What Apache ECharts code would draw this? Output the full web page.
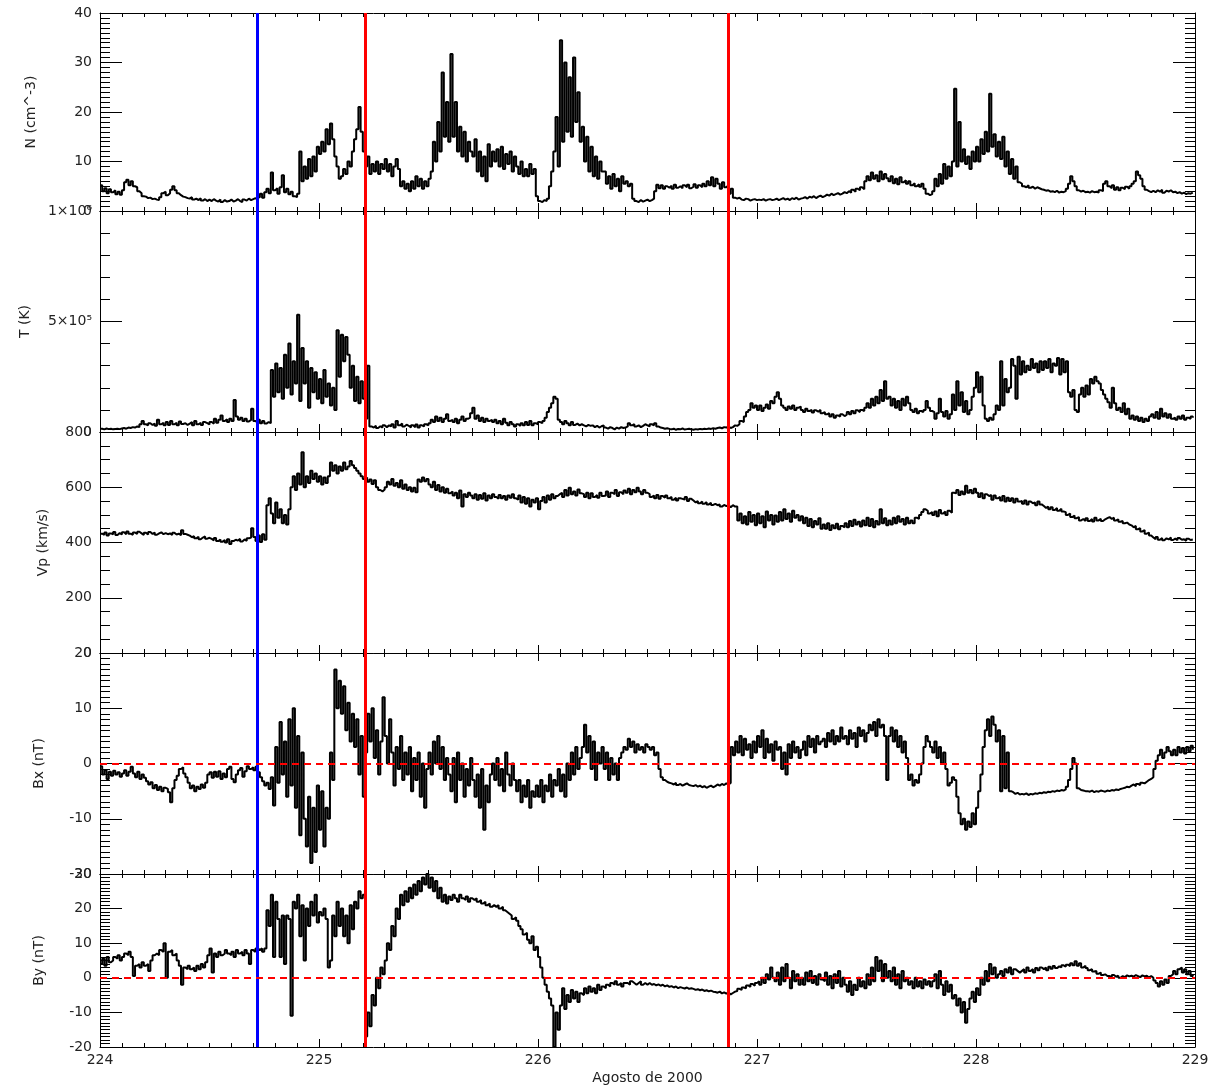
<!DOCTYPE html>
<html><head><meta charset="utf-8">
<script src="https://cdn.jsdelivr.net/npm/echarts@6/dist/echarts.min.js"></script>
<style>html,body{margin:0;padding:0;background:#fff}#c{width:1218px;height:1086px}</style>
</head><body><div id="c"></div>
<script>
// ---- data (day of year 2000, sampled every 0.01 day from 224.00) ----
const START_DAY = 224, STEP_DAY = 0.01;
const X_TICKS = [224, 225, 226, 227, 228, 229];

const N_CM3 = [
5.2,4.0,4.6,3.6,4.4,3.8,4.2,3.4,3.9,3.3,
4.2,5.8,6.3,5.2,6.0,5.0,4.8,4.0,3.6,3.0,
2.9,2.6,2.7,2.4,2.5,2.3,2.2,2.8,3.6,3.9,
3.2,3.6,4.3,5.0,4.2,3.6,3.2,2.9,2.8,2.6,
2.5,2.8,2.3,2.5,2.2,2.6,2.1,2.4,2.0,2.3,
2.0,2.4,2.1,1.9,2.3,1.8,2.2,1.9,2.0,2.3,
1.9,2.1,2.4,2.0,1.8,2.3,2.1,2.5,2.2,2.4,
2.6,2.2,2.8,3.5,2.7,3.8,4.5,3.6,7.8,4.2,
4.6,3.5,4.8,7.2,3.8,4.5,3.4,3.9,3.0,2.8,
3.5,12.0,6.0,9.0,6.5,10.5,7.0,11.0,8.0,13.0,
11.5,14.0,12.0,16.5,13.5,17.7,14.5,11.0,9.0,6.5,
7.0,8.5,7.5,10.0,9.0,12.0,14.5,16.5,21.0,16.0,
12.0,9.0,11.0,7.5,9.5,8.0,10.0,7.5,9.5,8.5,
10.5,8.0,9.5,7.0,9.0,10.5,8.5,5.0,6.0,4.5,
5.5,4.0,6.0,4.5,7.0,5.0,6.5,4.5,6.0,5.0,
6.5,8.0,14.0,10.0,18.0,12.0,28.0,15.0,22.0,14.0,
31.7,15.0,22.0,12.0,17.0,11.0,16.0,10.0,14.0,12.0,
11.0,14.5,8.0,12.0,7.0,11.0,6.0,13.5,9.0,12.0,
10.0,12.5,9.0,13.0,8.5,11.5,9.5,12.0,8.0,11.0,
9.0,7.5,10.0,7.0,8.5,7.0,9.5,7.5,8.5,3.0,
2.0,1.8,2.2,2.0,2.5,5.0,8.0,12.0,19.0,9.0,
34.5,14.0,30.0,16.0,27.0,15.0,31.0,18.0,24.0,14.0,
17.0,10.0,15.0,8.0,13.0,7.0,11.0,6.5,10.0,8.0,
8.0,5.5,7.0,4.5,7.5,5.0,6.5,4.0,7.0,5.5,
6.0,5.0,5.5,2.5,2.0,1.8,2.2,1.9,2.1,2.3,
2.0,2.2,2.5,4.0,5.3,4.6,5.2,4.5,5.0,4.7,
5.1,4.5,5.3,4.7,5.0,4.6,5.2,4.8,5.3,4.6,
4.9,5.4,4.7,5.2,4.8,5.5,5.0,6.0,5.2,6.8,
5.0,6.5,5.5,4.5,5.8,4.8,5.2,3.5,4.5,2.7,
2.5,2.7,2.3,2.2,2.5,2.4,2.1,2.3,2.4,2.2,
2.3,2.2,2.4,2.1,2.3,2.4,2.2,2.3,2.5,2.2,
2.4,2.6,2.3,2.5,2.2,2.6,2.4,2.7,2.3,2.5,
2.6,2.8,2.5,2.9,2.7,3.0,2.6,2.9,3.1,2.8,
3.0,3.3,3.1,3.5,3.2,3.4,3.6,3.3,3.5,3.8,
3.6,4.0,3.7,4.3,3.9,4.5,4.2,4.8,4.4,6.0,
7.0,6.2,7.8,6.5,7.2,6.0,8.0,6.4,7.5,6.6,
6.0,7.0,5.6,6.5,5.4,6.8,5.8,6.2,5.5,6.0,
5.2,5.6,5.0,5.4,4.9,5.5,4.5,3.5,3.2,3.4,
4.0,6.5,5.0,7.5,5.5,9.5,6.5,9.0,7.0,10.0,
24.7,9.0,18.0,10.0,12.5,9.5,11.0,8.5,12.0,10.0,
13.0,10.0,14.5,11.5,16.0,12.0,23.7,13.0,15.5,11.0,
14.0,10.5,15.0,9.0,12.0,7.5,10.5,6.5,9.0,5.8,
5.5,5.0,4.8,5.2,4.7,4.9,4.5,4.8,4.6,4.4,
4.3,4.1,4.2,3.9,4.0,3.8,4.1,3.7,3.9,3.8,
4.0,4.5,5.5,7.0,6.0,5.0,4.2,3.9,4.1,3.8,
3.9,3.7,4.0,3.8,3.9,3.7,4.2,4.0,5.5,6.0,
5.0,4.6,5.2,4.3,4.8,4.2,4.7,4.4,4.9,4.5,
5.0,5.5,6.0,8.0,7.2,6.5,5.0,4.3,4.0,3.8,
4.1,3.8,4.2,3.9,4.3,3.7,4.1,3.9,4.2,3.8,
3.9,3.6,3.8,3.5,3.7,3.4,3.6,3.5,3.7,3.6
];

// proton temperature in units of 1e5 K
const T_1E5K = [
0.15,0.12,0.16,0.13,0.15,0.12,0.14,0.15,0.13,0.16,
0.18,0.15,0.2,0.18,0.22,0.2,0.25,0.22,0.35,0.5,
0.35,0.3,0.4,0.32,0.38,0.28,0.55,0.35,0.42,0.3,
0.45,0.32,0.5,0.35,0.42,0.3,0.48,0.36,0.4,0.32,
0.38,0.45,0.3,0.5,0.35,0.42,0.32,0.45,0.4,0.34,
0.45,0.38,0.6,0.42,0.55,0.75,0.5,0.58,0.45,0.6,
0.5,1.45,0.7,0.55,0.65,0.5,0.6,0.48,0.55,1.05,
0.5,0.42,0.55,0.4,0.5,0.38,0.45,0.4,2.8,1.6,
3.1,1.8,2.9,1.5,3.5,2.0,4.0,1.7,3.2,2.2,
5.3,1.4,3.8,2.2,3.2,1.1,2.9,1.8,2.7,1.5,
2.4,1.3,2.8,1.6,2.2,1.2,2.0,1.0,4.6,2.5,
4.4,3.2,4.3,3.5,2.0,3.0,1.4,2.5,1.3,2.3,
1.5,0.6,3.0,0.25,0.2,0.28,0.18,0.26,0.2,0.3,
0.22,0.3,0.25,0.35,0.2,0.5,0.3,0.38,0.25,0.33,
0.28,0.2,0.3,0.22,0.34,0.2,0.3,0.25,0.35,0.3,
0.4,0.55,0.45,0.7,0.5,0.65,0.45,0.6,0.8,0.5,
0.55,0.45,0.6,0.4,0.55,0.7,0.5,0.6,0.65,0.85,
1.1,0.6,0.75,0.5,0.65,0.45,0.6,0.5,0.55,0.45,
0.55,0.4,0.5,0.35,0.6,0.42,0.3,0.45,0.35,0.25,
0.35,0.28,0.4,0.3,0.45,0.32,0.5,0.3,0.4,0.35,
0.45,0.4,0.5,0.65,0.9,1.1,1.3,1.6,1.5,0.55,
0.45,0.35,0.5,0.4,0.3,0.45,0.32,0.38,0.3,0.35,
0.3,0.25,0.32,0.28,0.3,0.22,0.28,0.2,0.26,0.3,
0.2,0.15,0.22,0.18,0.12,0.2,0.15,0.22,0.18,0.2,
0.25,0.4,0.3,0.35,0.25,0.3,0.22,0.28,0.35,0.3,
0.25,0.35,0.3,0.4,0.25,0.2,0.18,0.15,0.17,0.14,
0.12,0.15,0.1,0.14,0.12,0.16,0.11,0.13,0.15,0.12,
0.1,0.13,0.11,0.14,0.12,0.15,0.13,0.16,0.14,0.17,
0.15,0.18,0.2,0.17,0.22,0.2,0.25,0.18,0.22,0.3,
0.28,0.35,0.5,0.45,0.7,0.9,1.0,1.3,1.1,1.2,
1.0,1.2,0.95,1.1,1.25,1.05,1.4,1.3,1.6,1.8,
1.5,1.2,1.1,1.0,1.15,1.05,1.2,1.0,1.1,1.15,
1.0,0.9,1.05,0.95,1.0,0.88,0.98,0.92,1.0,0.85,
0.9,0.8,0.85,0.7,0.8,0.65,0.75,0.7,0.8,0.72,
0.78,0.9,0.8,0.95,0.85,0.98,0.9,1.0,0.95,1.1,
1.3,1.1,1.5,1.2,1.6,1.3,1.9,1.4,2.3,1.5,
1.6,1.2,1.5,1.1,1.4,1.0,1.5,1.2,1.6,1.3,
1.0,0.9,1.05,0.85,0.95,0.9,1.0,1.4,1.1,0.95,
0.9,0.6,0.85,1.5,0.9,0.7,0.95,0.6,0.8,1.7,
1.0,2.3,1.2,1.8,0.9,1.4,0.8,1.0,1.6,2.0,
2.7,1.8,2.5,1.2,0.6,0.5,0.65,0.55,0.8,1.2,
1.0,3.2,1.2,2.4,1.8,2.0,3.3,3.0,1.5,3.4,
2.6,3.2,2.7,3.0,2.8,3.3,2.9,3.1,2.7,3.2,
2.8,3.2,2.9,3.3,2.7,3.1,3.0,3.35,2.6,3.3,
2.7,3.2,1.8,1.6,1.9,1.0,0.9,1.7,2.0,1.6,
2.1,1.7,2.4,2.2,2.5,2.3,2.2,1.9,1.7,1.5,
1.35,1.1,2.0,1.3,1.0,1.1,0.9,1.3,0.8,1.05,
0.6,0.75,0.55,0.7,0.5,0.65,0.45,0.6,0.5,0.7,
0.8,0.65,0.9,0.6,1.05,0.7,0.85,0.65,0.8,0.6,
0.65,0.55,0.7,0.6,0.75,0.55,0.65,0.6,0.7,0.65
];

const VP_KMS = [
432,428,436,425,433,430,438,427,434,429,
437,430,440,432,428,436,431,439,433,427,
435,429,438,431,436,428,433,437,430,434,
430,433,427,435,429,432,426,444,431,428,
425,419,423,415,421,412,418,422,414,417,
413,408,416,405,411,403,409,400,412,395,
405,410,407,413,404,411,406,415,418,452,
420,405,425,402,430,410,535,560,505,470,
545,490,520,470,500,465,520,600,640,590,
650,610,727,600,640,615,660,630,650,620,
640,610,635,615,640,690,660,680,650,675,
660,690,665,675,695,680,670,660,650,640,
630,635,620,628,612,625,600,590,585,592,
600,620,610,630,605,615,600,625,595,610,
590,600,585,598,582,628,620,635,622,630,
610,600,620,590,608,585,600,580,595,578,
585,570,580,560,588,530,575,565,580,570,
560,575,555,572,558,578,552,570,560,575,
565,558,572,560,568,555,570,562,575,560,
555,570,545,565,540,560,530,555,545,560,
520,550,565,545,570,555,575,560,568,575,
580,565,590,570,598,575,585,570,592,578,
575,565,580,560,578,565,572,562,580,568,
570,585,565,580,575,590,568,582,575,588,
580,595,575,590,582,598,585,575,590,580,
575,565,570,560,572,558,568,562,570,560,
565,555,562,552,560,558,555,565,550,558,
552,545,550,542,548,540,546,538,544,536,
540,535,538,530,536,532,534,528,535,530,
530,480,505,470,495,465,510,475,500,462,
505,470,495,455,512,480,500,465,498,475,
510,480,520,485,505,475,515,490,500,480,
495,470,490,460,485,455,478,465,488,450,
465,450,470,445,462,452,468,448,460,455,
470,455,478,460,482,465,475,458,480,462,
490,460,485,455,478,465,520,470,488,462,
480,465,490,470,495,475,485,465,490,470,
480,470,490,485,500,510,520,515,505,510,
500,512,495,518,505,512,500,515,508,580,
578,590,572,585,575,605,580,590,578,595,
580,565,578,560,575,568,572,555,570,560,
565,552,568,548,562,550,560,545,558,548,
550,540,552,538,548,542,545,535,548,538,
532,525,530,520,528,518,525,515,522,512,
510,500,505,492,498,488,492,480,485,478,
488,478,485,476,490,480,486,478,484,488,
492,485,490,480,484,475,478,470,472,465,
462,455,460,448,452,440,445,432,436,425,
418,412,420,410,416,408,415,411,418,409,
414,408,416,410,412,406,414,409,411,413
];

const BX_NT = [
-0.5,-2.0,-1.2,-2.8,-1.5,-2.2,-1.3,-2.0,-1.6,-2.4,
-1.8,-1.2,-2.2,-1.5,-0.6,-1.8,-2.5,-1.5,-2.8,-2.0,
-2.6,-3.2,-3.8,-3.4,-4.5,-3.9,-4.8,-4.2,-5.0,-4.4,
-4.6,-5.2,-7.0,-4.5,-3.0,-2.2,-1.0,-0.7,-1.8,-2.5,
-3.5,-4.5,-4.0,-5.0,-4.2,-4.6,-3.8,-4.4,-3.5,-2.0,
-1.6,-2.6,-1.5,-2.4,-1.4,-2.8,-1.8,-2.5,-1.0,-0.6,
-2.8,-3.4,-2.0,-1.2,-0.8,-2.4,-1.4,-0.5,-1.0,-0.7,
-1.2,-0.6,-1.6,-2.5,-3.2,-4.0,-3.5,-4.6,-2.5,-7.6,
3.0,-3.5,7.5,-2.0,4.0,-6.0,8.0,-4.0,10.0,-8.0,
5.0,-13.0,2.0,-10.0,-15.0,-6.0,-18.0,-8.0,-16.0,-4.0,
-12.0,-5.0,-15.0,-8.0,-10.0,2.0,-3.0,17.0,10.0,15.0,
9.0,14.0,6.0,11.0,4.0,9.0,3.0,8.0,-2.0,5.0,
-6.0,2.0,9.0,4.0,10.0,1.0,6.0,-2.0,4.0,12.0,
5.0,0.0,8.0,2.0,-4.0,3.0,-1.0,5.0,-3.0,2.0,
-2.0,3.0,-5.0,1.0,-3.0,2.0,-6.0,0.0,-8.0,-1.0,
2.0,-2.0,4.0,0.0,5.0,-1.0,3.0,-3.0,1.0,-2.0,
-5.0,1.0,-7.0,2.0,-3.0,0.0,-6.0,-1.0,-4.0,1.0,
-3.0,-6.0,-2.0,-8.0,-1.0,-12.0,-4.0,-7.0,-2.0,0.0,
-3.0,1.0,-4.0,-1.0,-5.0,2.0,-2.0,-4.0,0.0,-3.0,
-5.0,-3.0,-7.0,-4.0,-6.0,-3.0,-8.0,-5.0,-6.0,-4.0,
-6.0,-3.0,-7.0,-4.0,-5.0,-2.0,-6.0,-3.0,-4.0,-1.0,
-5.0,-2.0,-6.0,0.0,-3.0,2.0,-2.0,3.0,-1.0,1.0,
3.0,7.0,2.0,5.0,-1.0,4.0,-3.0,2.0,0.0,3.0,
-1.0,2.0,-3.0,1.0,-2.0,0.0,-3.0,1.0,2.0,3.0,
2.5,4.5,3.0,4.0,2.0,3.5,2.5,3.0,2.0,3.5,
3.0,2.5,3.0,1.5,2.0,-1.0,-2.5,-3.0,-3.3,-3.5,
-3.6,-3.8,-3.5,-3.9,-3.7,-4.0,-3.8,-3.6,-3.9,-4.0,
-4.1,-3.9,-4.2,-4.0,-4.3,-4.1,-4.4,-4.2,-4.0,-4.3,
-4.1,-3.8,-4.0,-3.7,-3.9,-3.6,-3.8,-3.5,3.0,1.5,
4.0,2.0,5.0,1.5,4.5,2.5,3.5,1.0,4.0,2.0,
5.0,3.0,6.0,1.0,4.5,2.0,3.5,0.5,4.0,2.5,
3.0,-1.0,2.0,-2.0,3.5,1.0,4.0,2.0,3.0,1.0,
2.5,4.0,1.5,5.0,3.0,4.5,2.0,5.0,3.5,4.0,
4.5,3.0,5.5,4.0,6.0,3.5,5.0,4.0,6.5,4.5,
5.0,3.5,6.0,4.5,5.5,3.0,6.5,5.0,6.0,4.0,
5.5,7.0,6.0,7.5,5.0,8.0,6.5,7.0,5.0,-3.0,
5.0,6.5,4.0,6.0,3.0,5.0,2.0,4.0,1.0,-3.0,
-2.0,-4.0,-3.0,-3.5,-2.0,0.0,3.0,5.0,4.0,3.0,
2.0,4.0,1.0,3.0,0.0,2.0,-1.0,-4.0,-3.5,-2.5,
-3.0,-6.0,-9.0,-11.0,-10.0,-12.0,-10.5,-11.5,-9.0,-11.0,
-8.0,-5.0,-2.0,3.0,6.0,8.0,5.0,8.5,7.0,4.0,
6.0,-5.0,5.0,-4.5,2.0,-5.0,-5.2,-5.5,-5.3,-5.6,
-5.5,-5.6,-5.4,-5.7,-5.5,-5.6,-5.4,-5.5,-5.3,-5.4,
-5.2,-5.3,-5.1,-5.2,-5.0,-5.1,-4.9,-5.0,-4.8,-4.9,
-4.7,-4.2,-3.0,-1.0,1.0,0.0,-4.5,-4.8,-4.9,-5.0,
-5.0,-5.1,-4.9,-5.2,-5.0,-5.1,-4.9,-5.0,-5.1,-4.9,
-5.0,-4.8,-4.9,-4.7,-4.8,-4.6,-4.5,-4.4,-4.2,-4.3,
-4.0,-3.8,-4.1,-3.7,-3.9,-3.5,-3.6,-3.3,-3.0,-2.8,
-2.5,-1.0,0.5,1.5,2.5,1.0,2.0,3.0,2.2,1.5,
2.5,1.5,3.0,2.0,2.8,1.8,3.0,2.2,3.2,2.5
];

const BY_NT = [
4.0,5.5,3.5,6.0,4.5,5.0,6.0,5.5,6.5,5.0,
6.0,7.0,6.5,7.5,6.0,0.5,3.5,4.0,3.0,4.5,
3.5,4.0,2.0,5.0,6.5,7.0,6.5,8.0,7.5,10.0,
0.0,7.5,8.0,6.5,7.0,5.0,3.5,-2.0,3.0,2.5,
3.5,2.5,3.0,2.0,3.5,2.5,4.0,3.0,4.5,6.5,
8.5,1.5,7.0,6.0,7.5,6.5,7.0,8.0,7.0,6.5,
7.5,6.0,8.0,7.0,7.5,6.5,8.0,7.0,4.0,8.0,
7.5,8.5,8.0,8.5,7.5,8.5,19.5,15.0,24.0,6.0,
22.0,17.0,6.0,18.0,4.0,18.0,17.0,-11.0,22.0,20.0,
24.0,12.0,21.0,5.0,20.0,15.0,22.0,18.0,24.0,16.0,
19.0,18.0,20.0,17.0,3.0,5.0,18.0,12.0,22.0,15.0,
20.0,12.0,18.0,10.0,21.0,14.0,22.0,20.0,25.0,23.0,
24.0,-17.0,-10.0,-14.0,-5.0,-8.0,0.0,-3.0,3.0,1.0,
5.0,10.0,8.0,15.0,12.0,20.0,17.0,24.0,21.0,25.0,
22.0,26.0,23.0,27.0,24.0,28.0,25.0,29.0,27.0,30.0,
26.0,29.0,25.0,28.0,23.0,26.0,22.0,24.0,21.5,23.5,
22.5,24.0,23.0,22.0,24.0,23.0,22.5,23.5,22.0,23.0,
22.5,23.0,22.0,22.5,21.5,22.0,21.0,21.5,20.5,21.0,
20.5,21.0,20.0,20.5,19.5,19.0,18.5,18.0,17.0,17.5,
16.5,15.0,14.0,12.5,13.0,11.0,10.0,12.0,8.0,9.0,
6.0,3.0,0.0,-2.0,-4.0,-6.0,-8.0,-20.0,-10.0,-15.0,
-8.0,-3.0,-9.0,-5.0,-7.0,-3.5,-6.0,-4.0,-7.0,-4.5,
-5.0,-3.0,-4.5,-2.5,-4.0,-3.0,-4.5,-2.0,-3.5,-2.5,
-3.0,-2.0,-2.5,-1.5,-2.0,-1.0,-2.0,-1.5,-2.5,-1.5,
-1.5,-2.0,-1.0,-1.5,-2.0,-1.5,-1.0,-2.0,-1.5,-2.0,
-1.5,-2.0,-1.8,-2.2,-1.9,-2.3,-2.0,-2.5,-2.2,-2.6,
-2.4,-2.8,-2.5,-3.0,-2.7,-2.9,-3.1,-2.8,-3.2,-3.0,
-3.2,-3.5,-3.3,-3.6,-3.4,-3.8,-3.6,-3.9,-3.7,-4.0,
-4.1,-4.3,-4.0,-4.5,-4.2,-4.6,-4.3,-4.8,-4.4,-4.0,
-3.8,-3.2,-3.5,-2.8,-3.0,-2.2,-2.6,-1.8,-2.3,-1.5,
-1.0,-2.0,0.0,-1.5,1.0,-0.5,3.0,0.0,-1.0,1.5,
-2.0,3.0,-1.0,4.0,0.0,-3.0,2.0,-1.0,1.0,-2.0,
0.0,-2.0,1.5,-1.0,2.0,-1.5,0.5,-2.0,1.0,-0.5,
-1.0,1.5,-2.0,0.5,-3.0,1.0,-1.5,2.0,-2.5,0.0,
-2.0,-4.0,-1.0,-5.0,-2.0,-3.5,0.0,-2.5,-1.0,-3.0,
1.0,-2.0,3.0,-1.0,6.0,2.0,5.0,-1.0,4.0,0.0,
2.0,-1.0,3.0,-2.0,1.0,-3.0,2.0,-1.0,0.0,-2.0,
-1.0,-3.0,0.0,-2.5,-1.0,-3.0,-0.5,-2.0,-1.0,-2.5,
-1.0,1.0,-3.0,2.0,-2.0,-5.0,-1.0,-4.0,-2.0,-6.0,
-5.0,-8.0,-6.0,-10.0,-7.0,-13.0,-9.0,-6.0,-4.0,-7.0,
-3.0,-5.0,0.0,-2.0,2.0,-1.0,4.0,1.0,3.0,0.0,
1.0,2.0,0.5,2.5,1.5,3.0,1.0,2.5,2.0,1.5,
2.0,2.5,1.5,3.0,2.0,2.5,1.5,2.8,2.2,3.0,
2.5,3.0,2.2,3.2,2.6,3.4,2.8,3.3,3.0,3.6,
3.2,3.8,3.4,4.2,3.6,4.8,3.5,4.2,3.0,3.5,
2.8,2.2,2.5,1.8,2.0,1.2,1.5,0.8,1.0,0.5,
0.5,0.2,0.8,0.3,0.6,0.0,0.5,0.2,0.7,0.4,
0.6,0.3,0.8,0.5,0.2,0.7,0.4,0.6,0.1,0.5,
0.0,-0.8,-1.5,-2.5,-1.0,-2.0,-0.5,-1.5,0.5,1.0,
2.0,1.0,2.5,3.0,1.5,2.5,1.0,2.0,0.5,1.0
];

const EVENT_DAYS = [224.72, 225.21, 226.87];
const EVENT_COLORS = ['#0000ff', '#ff0000', '#ff0000'];

// ---- layout / styling ----
const FONT = 'DejaVu Sans';
const TXT = '#222';
const PANELS = [
  {name: 'N (cm^-3)', data: N_CM3, mult: 1,   min: 0,   max: 40,  interval: 10,  minor: 10, zero: false, top: 13,  h: 198, gap: 62},
  {name: 'T (K)',     data: T_1E5K, mult: 1e5, min: 0,  max: 1e6, interval: 5e5, minor: 5,  zero: false, top: 211, h: 221, gap: 68},
  {name: 'Vp (km/s)', data: VP_KMS, mult: 1, min: 0,    max: 800, interval: 200, minor: 4,  zero: false, top: 432, h: 221, gap: 50},
  {name: 'Bx (nT)',   data: BX_NT, mult: 1,  min: -20,  max: 20,  interval: 10,  minor: 10, zero: true,  top: 653, h: 221, gap: 54},
  {name: 'By (nT)',   data: BY_NT, mult: 1,  min: -20,  max: 30,  interval: 10,  minor: 10, zero: true,  top: 874, h: 176, gap: 54}
];

function tempLabel(v) {
  if (v === 0) return '0';
  if (v === 5e5) return '5×10⁵';
  if (v === 1e6) return '1×10⁶';
  return '';
}

const grids = [], xAxes = [], yAxes = [], series = [];
PANELS.forEach((p, i) => {
  grids.push({left: 100, right: 23, top: p.top, height: p.h, containLabel: false});
  const last = i === PANELS.length - 1;
  const xBase = {
    type: 'value', gridIndex: i, min: X_TICKS[0], max: X_TICKS[X_TICKS.length - 1], interval: 1,
    axisLine: {show: true, onZero: false, lineStyle: {color: '#000', width: 1}},
    axisTick: {show: true, inside: true, length: 8, lineStyle: {color: '#000'}},
    minorTick: {show: true, splitNumber: 10, length: 4, lineStyle: {color: '#000'}},
    splitLine: {show: false}
  };
  xAxes.push(Object.assign({}, xBase, {
    position: 'bottom',
    axisLabel: {show: last, color: TXT, fontFamily: FONT, fontSize: 14, margin: 6, showMinLabel: true, showMaxLabel: true},
    name: last ? 'Agosto de 2000' : '', nameLocation: 'middle', nameGap: 24,
    nameTextStyle: {color: TXT, fontFamily: FONT, fontSize: 14}
  }));
  xAxes.push(Object.assign({}, xBase, {position: 'top', axisLabel: {show: false}}));
  const yBase = {
    type: 'value', gridIndex: i, min: p.min, max: p.max, interval: p.interval,
    axisLine: {show: true, onZero: false, lineStyle: {color: '#000', width: 1}},
    axisTick: {show: true, inside: true, length: 22, lineStyle: {color: '#000'}},
    minorTick: {show: true, splitNumber: p.minor, length: 10, lineStyle: {color: '#000'}},
    splitLine: {show: false}
  };
  yAxes.push(Object.assign({}, yBase, {
    position: 'left',
    axisLabel: {
      show: true, color: TXT, fontFamily: FONT, fontSize: 14, margin: 8,
      showMinLabel: true, showMaxLabel: true,
      formatter: p.mult === 1e5 ? tempLabel : (v => String(v))
    },
    name: p.name, nameLocation: 'middle', nameRotate: 90, nameGap: p.gap,
    nameTextStyle: {color: TXT, fontFamily: FONT, fontSize: 14}
  }));
  yAxes.push(Object.assign({}, yBase, {position: 'right', axisLabel: {show: false}}));

  const markData = EVENT_DAYS.map((d, k) => ({xAxis: d, lineStyle: {color: EVENT_COLORS[k], width: 3, type: 'solid'}}));
  if (p.zero) markData.push({yAxis: 0, lineStyle: {color: '#ff0000', width: 2, type: [7, 5]}});

  series.push({
    type: 'line', xAxisIndex: 2 * i, yAxisIndex: 2 * i,
    data: p.data.map((v, k) => [START_DAY + k * STEP_DAY, v * p.mult]),
    showSymbol: false, symbol: 'none', step: 'end',
    lineStyle: {color: '#000', width: 2},
    silent: true, clip: true,
    markLine: {symbol: 'none', silent: true, animation: false, label: {show: false}, data: markData}
  });
});

const chart = echarts.init(document.getElementById('c'), null, {renderer: 'canvas'});
chart.setOption({
  animation: false,
  backgroundColor: '#fff',
  grid: grids, xAxis: xAxes, yAxis: yAxes, series: series
});
</script>
</body></html>
